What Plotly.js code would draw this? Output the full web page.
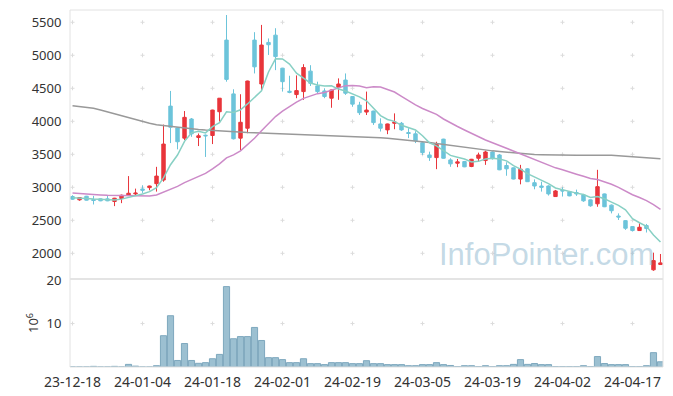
<!DOCTYPE html>
<html>
<head>
<meta charset="utf-8">
<script src="https://cdn.plot.ly/plotly-3.0.1.min.js"></script>
<style>html,body{margin:0;padding:0;background:#fff;}#chart{width:673px;height:396px;}</style>
</head>
<body>
<div id="chart"></div>
<script>
const dates = ['2023-12-18','2023-12-19','2023-12-20','2023-12-21','2023-12-22','2023-12-26','2023-12-27','2023-12-28',
'2024-01-02','2024-01-03','2024-01-04','2024-01-05','2024-01-08','2024-01-09','2024-01-10','2024-01-11','2024-01-12',
'2024-01-15','2024-01-16','2024-01-17','2024-01-18','2024-01-19','2024-01-22','2024-01-23','2024-01-24','2024-01-25',
'2024-01-26','2024-01-29','2024-01-30','2024-01-31','2024-02-01','2024-02-02','2024-02-05','2024-02-06','2024-02-07',
'2024-02-08','2024-02-13','2024-02-14','2024-02-15','2024-02-16','2024-02-19','2024-02-20','2024-02-21','2024-02-22',
'2024-02-23','2024-02-26','2024-02-27','2024-02-28','2024-02-29','2024-03-04','2024-03-05','2024-03-06','2024-03-07',
'2024-03-08','2024-03-11','2024-03-12','2024-03-13','2024-03-14','2024-03-15','2024-03-18','2024-03-19','2024-03-20',
'2024-03-21','2024-03-22','2024-03-25','2024-03-26','2024-03-27','2024-03-28','2024-03-29','2024-04-01','2024-04-02',
'2024-04-03','2024-04-04','2024-04-05','2024-04-08','2024-04-09','2024-04-11','2024-04-12','2024-04-15','2024-04-16',
'2024-04-17','2024-04-18','2024-04-19','2024-04-22','2024-04-23'];

const open = [2860,2810,2865,2815,2825,2825,2785,2830,2875,2900,2975,2995,3055,3110,4230,3900,3745,4035,3755,3790,
3785,4145,5230,4415,3745,3895,5230,4565,5195,5305,4805,4455,4405,4450,4760,4535,4460,4350,4515,4625,
4375,4245,4140,4155,3960,3870,3970,3970,3830,3810,3675,3490,3450,3730,3415,3365,3390,3315,3440,3405,
3535,3490,3330,3295,3125,3280,3070,3020,3020,2860,2955,2935,2920,2885,2810,2750,2900,2730,2565,2495,
2405,2345,2420,1750,1830];
const high = [2880,2850,2870,2870,2830,2870,2840,2890,3170,2980,3030,3025,3310,3950,4460,3905,4155,4050,3815,3800,
4175,4350,5610,4485,4410,4615,5350,5460,5255,5410,4810,4690,4695,4865,4850,4600,4500,4480,4650,4725,
4380,4295,4450,4160,4045,3965,4120,3990,3895,3850,3700,3540,3690,3735,3440,3430,3400,3430,3525,3555,
3545,3505,3380,3300,3340,3290,3120,3085,3030,2960,3000,2945,2965,2900,2815,3265,2905,2740,2605,2500,
2410,2455,2445,2010,1990];
const low = [2810,2795,2800,2740,2790,2790,2715,2760,2870,2870,2915,2955,2935,3085,3670,3575,3715,3765,3625,3460,
3655,3995,4600,3725,3565,3820,4725,4475,5005,4775,4450,4425,4350,4325,4535,4425,4350,4205,4325,4400,
4220,4095,4095,3945,3845,3805,3880,3855,3745,3670,3490,3400,3275,3435,3310,3305,3305,3305,3390,3340,
3420,3260,3175,3120,3045,3080,2970,2935,2875,2855,2860,2865,2870,2780,2705,2705,2700,2605,2505,2355,
2330,2340,2315,1735,1825];
const close = [2820,2845,2805,2800,2795,2795,2835,2880,2910,2912,2955,3020,3170,3655,3910,3690,4060,3810,3780,3780,
4170,4350,4635,3735,3985,4610,4825,5155,5160,4980,4600,4440,4465,4815,4575,4450,4375,4475,4565,4425,
4260,4130,4170,3980,3895,3960,3990,3870,3815,3705,3525,3450,3650,3440,3355,3385,3310,3425,3490,3535,
3435,3265,3280,3125,3275,3085,3020,3000,2900,2945,2945,2870,2900,2795,2720,3010,2705,2645,2550,2380,
2345,2395,2375,1890,1855];

// moving averages (short / mid / long)
const ma5 = [2840,2838,2830,2822,2813,2808,2806,2821,2843,2866,2898,2935,2993,3142,3342,3489,3697,3825,3850,3824,
3920,3978,4143,4134,4175,4263,4358,4462,4747,4946,4944,4867,4729,4660,4579,4549,4536,4538,4488,4458,
4420,4371,4310,4193,4087,4027,3999,3939,3906,3868,3781,3673,3629,3554,3484,3456,3428,3383,3393,3429,
3439,3430,3401,3328,3276,3206,3157,3101,3056,2990,2962,2932,2912,2891,2846,2859,2826,2775,2726,2658,
2525,2463,2409,2277,2172];
const ma20 = [2915,2905,2897,2890,2885,2878,2875,2873,2872,2870,2868,2870,2885,2925,2970,3015,3072,3120,3165,3211,
3279,3354,3446,3492,3552,3643,3742,3856,3968,4072,4154,4225,4290,4348,4381,4419,4435,4468,4507,4540,
4544,4533,4510,4522,4518,4485,4443,4379,4312,4248,4194,4145,4104,4035,3974,3921,3868,3815,3762,3717,
3676,3633,3588,3545,3514,3471,3422,3379,3333,3295,3266,3237,3199,3167,3135,3117,3086,3047,3000,2943,
2888,2845,2799,2738,2667];
const maLong = [4235,4222,4210,4197,4170,4140,4110,4080,4050,4020,3995,3970,3948,3935,3922,3908,3896,3885,3877,3868,
3860,3852,3845,3838,3833,3830,3826,3822,3820,3818,3815,3812,3808,3805,3801,3797,3793,3790,3785,3780,
3775,3770,3765,3758,3750,3742,3733,3725,3716,3706,3692,3678,3663,3648,3632,3617,3602,3590,3577,3563,
3552,3542,3532,3522,3512,3505,3498,3494,3490,3488,3487,3486,3485,3485,3486,3487,3486,3484,3478,3470,
3462,3455,3448,3440,3433];

// volume, millions of shares
const volume = [0.03,0.03,0.03,0.15,0.03,0.03,0.15,0.03,0.6,0.2,0.03,0.03,0.3,7.2,11.8,1.5,5.4,1.5,0.85,1.0,
1.9,2.9,18.5,6.5,7.0,7.0,9.1,6.1,2.15,2.15,1.7,1.0,1.0,1.9,0.77,0.77,0.55,1.0,1.0,1.0,
0.77,0.77,1.45,0.77,0.77,0.55,0.55,0.55,0.3,0.3,0.55,0.55,1.0,0.55,0.35,0.1,0.3,0.3,0.1,0.3,
0.1,0.3,0.3,0.6,1.7,0.6,0.8,0.55,0.55,0.1,0.1,0.1,0.1,0.3,0.1,2.4,0.8,0.55,0.55,0.55,
0.1,0.1,0.3,3.3,1.2];

const tickDates = ['2023-12-18','2024-01-04','2024-01-18','2024-02-01','2024-02-19','2024-03-05','2024-03-19','2024-04-02','2024-04-17'];
const tickLabels = ['23-12-18','24-01-04','24-01-18','24-02-01','24-02-19','24-03-05','24-03-19','24-04-02','24-04-17'];
const priceTicks = [2000,2500,3000,3500,4000,4500,5000,5500];
const volTicks = [10,20];

const RED = '#e8353b', BLUE = '#6cc4da';
const FONT = 'Noto Sans, sans-serif';
const TXT = '#333333';
const split = 0.2465;

const traces = [
  {type:'bar', x:dates, y:volume, xaxis:'x', yaxis:'y2',
   marker:{color:'#9cc0d1', line:{color:'#7ea8be', width:1}}, hoverinfo:'skip'},
  {type:'candlestick', x:dates, open:open, high:high, low:low, close:close, xaxis:'x', yaxis:'y',
   increasing:{line:{color:RED, width:1}, fillcolor:RED},
   decreasing:{line:{color:BLUE, width:1}, fillcolor:BLUE},
   whiskerwidth:0, hoverinfo:'skip'},
  {type:'scatter', mode:'lines', x:dates, y:maLong, xaxis:'x', yaxis:'y', line:{color:'#999999', width:1.5}, hoverinfo:'skip'},
  {type:'scatter', mode:'lines', x:dates, y:ma20, xaxis:'x', yaxis:'y', line:{color:'#cc8ac8', width:1.5}, hoverinfo:'skip'},
  {type:'scatter', mode:'lines', x:dates, y:ma5, xaxis:'x', yaxis:'y', line:{color:'#88d0c4', width:1.5}, hoverinfo:'skip'}
];

const shapes = [];
const CROSS = '#dcdcdc';
function addCross(xv, yv, yref){
  shapes.push({type:'line', layer:'below', xref:'x', yref:yref, xsizemode:'pixel', xanchor:xv, x0:-2, x1:2, y0:yv, y1:yv, line:{color:CROSS, width:1}});
  shapes.push({type:'line', layer:'below', xref:'x', yref:yref, ysizemode:'pixel', yanchor:yv, y0:-2, y1:2, x0:xv, x1:xv, line:{color:CROSS, width:1}});
}
tickDates.forEach(d => { priceTicks.forEach(p => addCross(d, p, 'y')); addCross(d, volTicks[0], 'y2'); });
shapes.push({type:'rect', xref:'paper', yref:'paper', x0:0, x1:1, y0:0, y1:1, line:{color:'#e2e2e2', width:1}, layer:'above'});
shapes.push({type:'line', xref:'paper', yref:'paper', x0:0, x1:1, y0:split, y1:split, line:{color:'#e4e4e4', width:2}, layer:'above'});

const layout = {
  width:673, height:396,
  margin:{l:70, r:10, t:10, b:29},
  paper_bgcolor:'#fff', plot_bgcolor:'#fff',
  showlegend:false,
  font:{family:FONT, size:13, color:TXT},
  xaxis:{type:'category', range:[-0.36, 84.36], anchor:'y2', tickmode:'array', tickvals:tickDates, ticktext:tickLabels,
         showgrid:false, zeroline:false, showline:false, ticks:'outside', ticklen:2, tickcolor:'rgba(0,0,0,0)',
         rangeslider:{visible:false}, tickfont:{size:14, color:TXT}},
  yaxis:{domain:[split,1], range:[1611,5686], tickmode:'array', tickvals:priceTicks, showgrid:false, zeroline:false,
         showline:false, ticks:'outside', ticklen:5, tickcolor:'rgba(0,0,0,0)', tickfont:{size:13, color:TXT}},
  yaxis2:{domain:[0,split], range:[0,20.25], tickmode:'array', tickvals:volTicks, showgrid:false, zeroline:false,
          showline:false, ticks:'outside', ticklen:5, tickcolor:'rgba(0,0,0,0)', tickfont:{size:13, color:TXT},
          title:{text:'10<sup>6</sup>', font:{size:13, color:TXT}, standoff:4}},
  bargap:0.12,
  shapes:shapes,
  annotations:[{text:'InfoPointer.com', xref:'paper', yref:'paper', x:0.803, y:0.314, xanchor:'center', yanchor:'middle',
                showarrow:false, font:{family:'Liberation Sans, Arial, sans-serif', size:31, color:'rgba(140,182,206,0.52)'}}]
};

Plotly.newPlot('chart', traces, layout, {displayModeBar:false, staticPlot:true});
</script>
</body>
</html>
